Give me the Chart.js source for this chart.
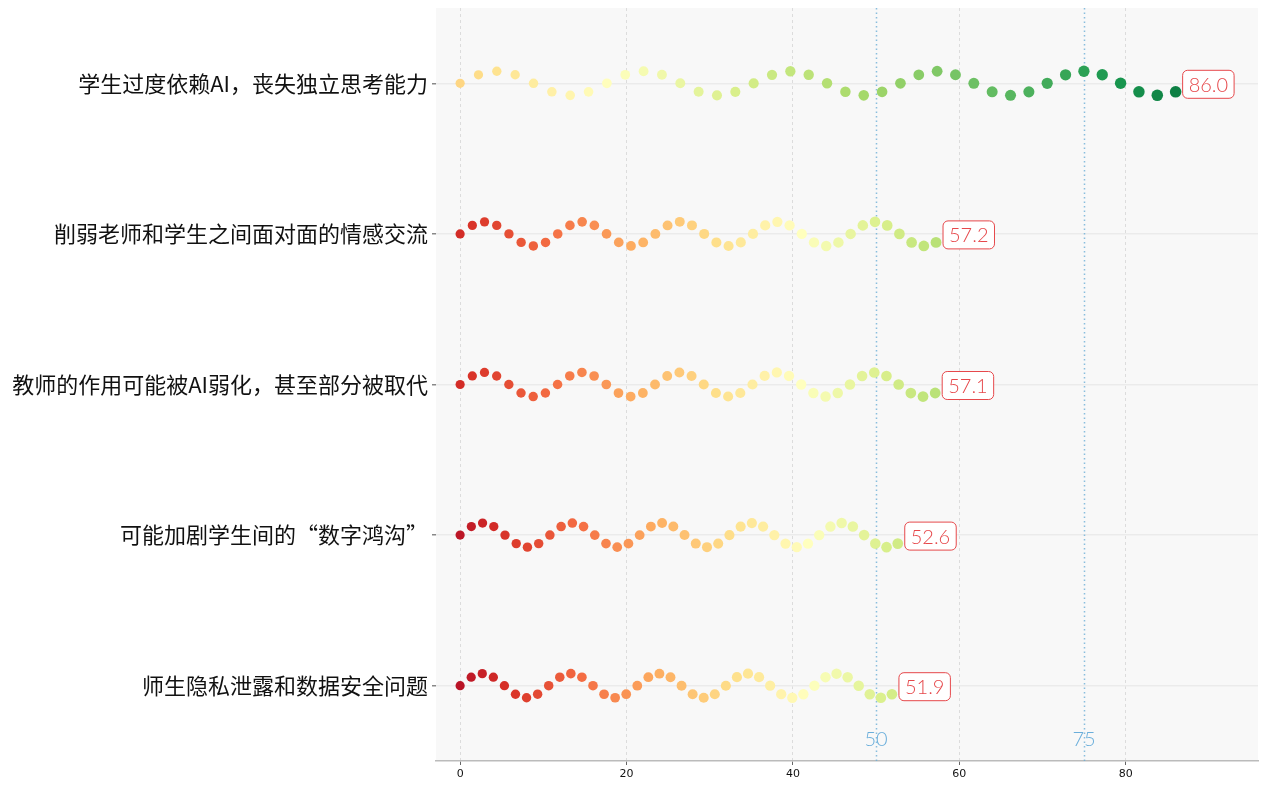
<!DOCTYPE html>
<html>
<head>
<meta charset="utf-8">
<script src="https://cdn.jsdelivr.net/npm/chart.js@4.4.1/dist/chart.umd.min.js"></script>
<style>
  html, body { margin: 0; padding: 0; background: #ffffff; }
  #wrap { width: 1267px; height: 788px; }
</style>
</head>
<body>
<div id="wrap"><canvas id="theChart" width="1267" height="788"></canvas></div>
<script>
// categories top to bottom, and their scores
const categories = [
  "学生过度依赖AI，丧失独立思考能力",
  "削弱老师和学生之间面对面的情感交流",
  "教师的作用可能被AI弱化，甚至部分被取代",
  "可能加剧学生间的“数字鸿沟”",
  "师生隐私泄露和数据安全问题"
]
const scores = [86.0, 57.2, 57.1, 52.6, 51.9]
const xTicks = [0, 20, 40, 60, 80]
const refLines = [50, 75]

const dotsPerRow = 40
const waveHeight = 0.08

// RdYlGn stops
const rdylgn = ["#a50026", "#d73027", "#f46d43", "#fdae61", "#fee08b", "#ffffbf",
  "#d9ef8b", "#a6d96a", "#66bd63", "#1a9850", "#006837"]

function hexToRgb(h) {
  return [parseInt(h.slice(1, 3), 16), parseInt(h.slice(3, 5), 16), parseInt(h.slice(5, 7), 16)]
}

function cmap(t) {
  t = Math.max(0, Math.min(1, t))
  let pos = t * (rdylgn.length - 1)
  let i = Math.min(Math.floor(pos), rdylgn.length - 2)
  let f = pos - i
  let a = hexToRgb(rdylgn[i]), b = hexToRgb(rdylgn[i + 1])
  let c = a.map((v, k) => Math.round(v + (b[k] - v) * f))
  return "rgb(" + c.join(",") + ")"
}

const n = categories.length
const datasets = scores.map((score, r) => {
  let pts = []
  let colors = []
  let radii = []
  let lo = (score - 50) / 100 + 0.02
  for (let i = 0; i < dotsPerRow; i++) {
    let x = score * i / (dotsPerRow - 1)
    pts.push({ x: x, y: (n - 1 - r) + waveHeight * Math.sin(i * Math.PI / 4) })
    colors.push(cmap(lo + 0.57 * i / (dotsPerRow - 1)))
    radii.push(4.6 + x * 0.014)
  }
  return {
    data: pts,
    backgroundColor: colors,
    borderWidth: 0,
    pointRadius: radii,
    pointHoverRadius: radii
  }
})

const extras = {
  id: "extras",
  beforeDraw(chart) {
    let { ctx, chartArea: a } = chart
    ctx.save()
    ctx.fillStyle = "#f8f8f8"
    ctx.fillRect(a.left, a.top, a.right - a.left, a.bottom - a.top)
    ctx.restore()
  },
  beforeDatasetsDraw(chart) {
    let { ctx, chartArea: a, scales } = chart
    ctx.save()
    ctx.strokeStyle = "rgba(107,174,214,0.8)"
    ctx.lineWidth = 1.5
    ctx.setLineDash([1.5, 3])
    refLines.forEach(v => {
      let px = Math.round(scales.x.getPixelForValue(v)) + 0.5
      ctx.beginPath()
      ctx.moveTo(px, a.top)
      ctx.lineTo(px, a.bottom)
      ctx.stroke()
    })
    ctx.restore()
  },
  afterDatasetsDraw(chart) {
    let { ctx, scales } = chart
    ctx.save()
    // reference line labels
    ctx.font = "300 20px Lato, 'DejaVu Sans', sans-serif"
    ctx.fillStyle = "#6aaedb"
    ctx.textAlign = "center"
    ctx.textBaseline = "middle"
    refLines.forEach(v => {
      ctx.fillText(String(v), scales.x.getPixelForValue(v), scales.y.getPixelForValue(-0.36))
    })
    // value boxes
    ctx.font = "300 20px Lato, 'DejaVu Sans', sans-serif"
    scores.forEach((score, r) => {
      let txt = score.toFixed(1)
      let w = ctx.measureText(txt).width + 12
      let h = 28
      let left = scales.x.getPixelForValue(score) + 7
      let cy = scales.y.getPixelForValue(n - 1 - r) + 1
      ctx.beginPath()
      ctx.roundRect(left, cy - h / 2, w, h, 5)
      ctx.fillStyle = "#ffffff"
      ctx.fill()
      ctx.lineWidth = 1
      ctx.strokeStyle = "#e6484b"
      ctx.stroke()
      ctx.fillStyle = "#e6484b"
      ctx.textAlign = "center"
      ctx.fillText(txt, left + w / 2, cy + 1)
    })
    ctx.restore()
  }
}

new Chart(document.getElementById("theChart").getContext("2d"), {
  type: "scatter",
  data: { datasets: datasets },
  options: {
    responsive: false,
    animation: false,
    devicePixelRatio: 1,
    layout: { padding: { top: 8, right: 9, left: 0, bottom: 0 } },
    plugins: { legend: { display: false }, tooltip: { enabled: false } },
    scales: {
      x: {
        min: -2.9,
        max: 95.9,
        afterBuildTicks: s => { s.ticks = xTicks.map(v => ({ value: v })) },
        afterFit: s => { s.height = 27; s.paddingLeft = 0; s.paddingRight = 0 },
        grid: {
          color: "#dcdcdc",
          tickColor: "#666666",
          tickLength: 4
        },
        border: { color: "#bbbbbb", width: 1.5, dash: [3, 3] },
        ticks: { color: "#111111", font: { size: 11, family: "'DejaVu Sans', sans-serif" }, padding: 3 }
      },
      y: {
        min: -0.5,
        max: n - 0.5,
        afterBuildTicks: s => { s.ticks = categories.map((c, i) => ({ value: i })) },
        afterFit: s => { s.width = 436; s.paddingTop = 0; s.paddingBottom = 0 },
        grid: { color: "#ebebeb", lineWidth: 1.5, tickColor: "#888888", tickLength: 4 },
        border: { display: false },
        ticks: {
          color: "#111111",
          padding: 4,
          font: { size: 22, family: "'Noto Sans CJK SC', sans-serif" },
          callback: v => categories[n - 1 - v]
        }
      }
    }
  },
  plugins: [extras]
})
</script>
</body>
</html>
